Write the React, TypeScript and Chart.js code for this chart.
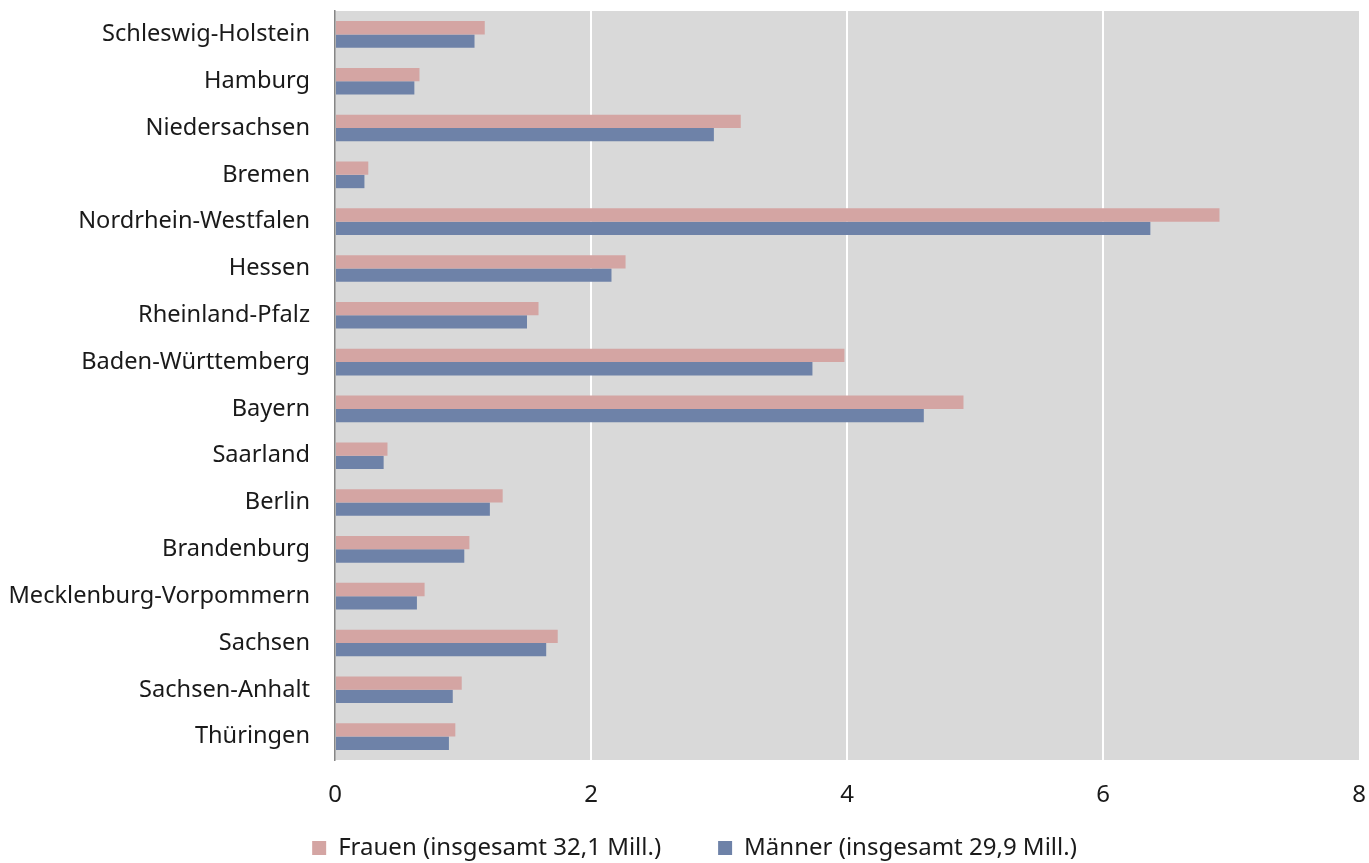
import React, { useEffect, useRef } from "react";
import { Chart, registerables } from "chart.js";

Chart.register(...registerables);

const categories = [
  "Schleswig-Holstein",
  "Hamburg",
  "Niedersachsen",
  "Bremen",
  "Nordrhein-Westfalen",
  "Hessen",
  "Rheinland-Pfalz",
  "Baden-Württemberg",
  "Bayern",
  "Saarland",
  "Berlin",
  "Brandenburg",
  "Mecklenburg-Vorpommern",
  "Sachsen",
  "Sachsen-Anhalt",
  "Thüringen",
];

const frauen = [1.17, 0.66, 3.17, 0.26, 6.91, 2.27, 1.59, 3.98, 4.91, 0.41, 1.31, 1.05, 0.7, 1.74, 0.99, 0.94];
const maenner = [1.09, 0.62, 2.96, 0.23, 6.37, 2.16, 1.5, 3.73, 4.6, 0.38, 1.21, 1.01, 0.64, 1.65, 0.92, 0.89];

const frauenLabel = "Frauen (insgesamt 32,1 Mill.)";
const maennerLabel = "Männer (insgesamt 29,9 Mill.)";
const xTicks = [0, 2, 4, 6, 8];

const FONT = "'Noto Sans', sans-serif";
const LEGEND_PAD = 57;
const LEGEND_BOX_H = 60;
const LEGEND_SHIFT_Y = 31;
const LEGEND_SHIFT_X = 15;

const plotBg = {
  id: "plotBg",
  beforeDraw(chart: any) {
    const { ctx, chartArea } = chart;
    ctx.save();
    ctx.fillStyle = "#d9d9d9";
    ctx.fillRect(chartArea.left, chartArea.top, chartArea.right - chartArea.left, chartArea.bottom - chartArea.top);
    ctx.restore();
  },
};

const legendTweak = {
  id: "legendTweak",
  beforeLayout(chart: any) {
    const lg = chart.legend;
    if (lg && !lg.__patched) {
      const orig = lg.fit.bind(lg);
      lg.fit = function () {
        orig();
        this.height = LEGEND_BOX_H;
      };
      lg.__patched = true;
    }
  },
  afterLayout(chart: any) {
    const lg = chart.legend;
    if (lg) {
      lg.top -= LEGEND_SHIFT_Y;
      lg.left += LEGEND_SHIFT_X;
      lg.right += LEGEND_SHIFT_X;
    }
  },
};

export default function App() {
  const ref = useRef<HTMLCanvasElement>(null);
  useEffect(() => {
    document.body.style.margin = "0";
    const chart = new Chart(ref.current!, {
      type: "bar",
      data: {
        labels: categories,
        datasets: [
          { label: frauenLabel, data: frauen, backgroundColor: "#d4a5a3", barPercentage: 1, categoryPercentage: 0.57 },
          { label: maennerLabel, data: maenner, backgroundColor: "#6e82a8", barPercentage: 1, categoryPercentage: 0.57 },
        ],
      },
      options: {
        indexAxis: "y",
        animation: false,
        responsive: false,
        layout: { padding: { top: 11, right: 10, left: 0, bottom: 0 } },
        scales: {
          x: {
            min: 0,
            max: 8,
            afterBuildTicks: (scale: any) => {
              scale.ticks = xTicks.map((v) => ({ value: v }));
            },
            afterFit: (scale: any) => {
              scale.height = 50;
              scale.paddingLeft = 0;
              scale.paddingRight = 0;
            },
            grid: {
              color: (c: any) => (c.tick && (c.tick.value === 0 || c.tick.value === 8) ? "rgba(0,0,0,0)" : "#ffffff"),
              lineWidth: 2,
              drawTicks: false,
            },
            border: { display: false },
            ticks: { color: "#1a1a1a", font: { family: FONT, size: 24 }, padding: 21 },
          },
          y: {
            afterFit: (scale: any) => {
              scale.width = 335;
              scale.paddingTop = 0;
              scale.paddingBottom = 0;
            },
            grid: { display: false, drawTicks: false },
            border: { display: true, color: "#868686", width: 1.5 },
            ticks: { color: "#1a1a1a", font: { family: FONT, size: 23.6 }, padding: 25 },
          },
        },
        plugins: {
          legend: {
            position: "bottom",
            labels: {
              color: "#1a1a1a",
              font: { family: FONT, size: 24 },
              boxWidth: 14,
              boxHeight: 14,
              padding: LEGEND_PAD,
            },
          },
          tooltip: { enabled: false },
        },
      },
      plugins: [plotBg, legendTweak],
    });
    return () => chart.destroy();
  }, []);
  return (
    <div style={{ width: 1369, height: 863, overflow: "hidden" }}>
      <canvas ref={ref} width={1369} height={870} style={{ display: "block" }} />
    </div>
  );
}
